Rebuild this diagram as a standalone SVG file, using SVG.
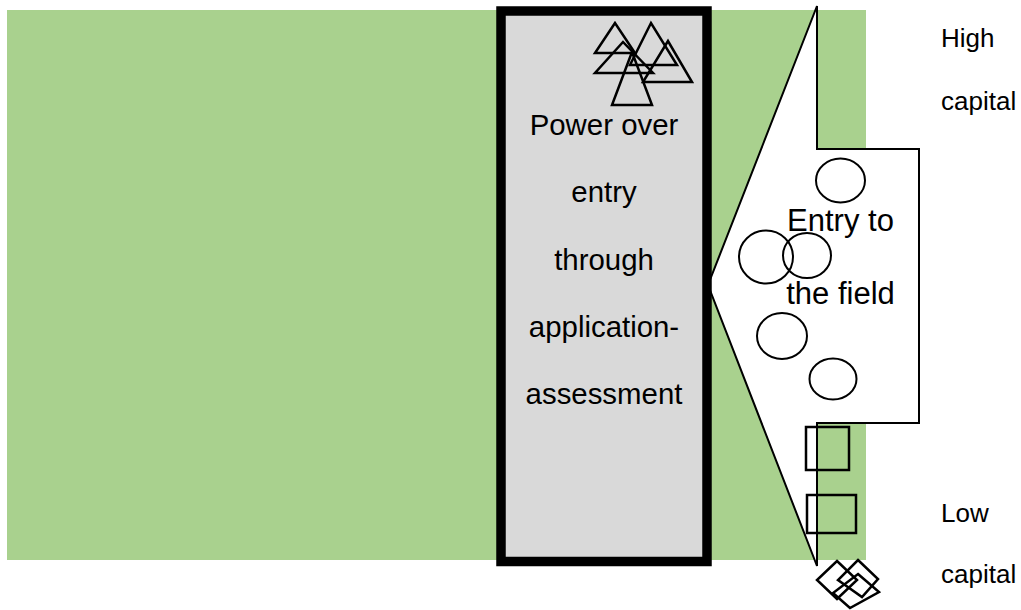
<svg xmlns="http://www.w3.org/2000/svg" width="1021" height="610" viewBox="0 0 1021 610">
<style>
.t{font-family:"Liberation Sans",Arial,sans-serif;fill:#000}
.sh{fill:none;stroke:#000;stroke-width:2.5}
.ci{fill:none;stroke:#000;stroke-width:2}
</style>
<g id="background">
<rect x="7" y="10" width="859" height="550" fill="#a9d18e"/>
</g>
<g id="field-entry">
<polygon points="817,6 817,149 919,149 919,423 817,423 817,566 708,285" fill="#fff" stroke="#000" stroke-width="2"/>
<ellipse class="ci" cx="840.5" cy="180.5" rx="24.5" ry="22"/>
<ellipse class="ci" cx="766" cy="257" rx="27" ry="26.5"/>
<ellipse class="ci" cx="807" cy="255.5" rx="24" ry="22.5"/>
<ellipse class="ci" cx="782" cy="336" rx="25" ry="23"/>
<ellipse class="ci" cx="833" cy="379" rx="23.5" ry="20.5"/>
<text class="t" x="840.5" y="231" font-size="31" text-anchor="middle">Entry to</text>
<text class="t" x="840.5" y="304" font-size="31" text-anchor="middle">the field</text>
</g>
<g id="gatekeeper">
<rect x="501" y="11" width="206" height="550.5" fill="#d9d9d9" stroke="#000" stroke-width="9.5"/>
<polygon class="sh" points="615,23 595,53 635,53"/>
<polygon class="sh" points="651,23 630,65 677,65"/>
<polygon class="sh" points="623,42 595,73 653,73"/>
<polygon class="sh" points="668,41 643,82 692,82"/>
<polygon class="sh" points="632,52 612,105 652,105"/>
<text class="t" x="604" y="135" font-size="29.4" text-anchor="middle">Power over</text>
<text class="t" x="604" y="202.4" font-size="29.4" text-anchor="middle">entry</text>
<text class="t" x="604" y="269.5" font-size="29.4" text-anchor="middle">through</text>
<text class="t" x="604" y="336.7" font-size="29.4" text-anchor="middle">application-</text>
<text class="t" x="604" y="404" font-size="29.4" text-anchor="middle">assessment</text>
</g>
<g id="low-capital-agents">
<rect class="sh" x="806" y="427" width="43" height="43"/>
<rect class="sh" x="807" y="495" width="49" height="38"/>
<polygon class="sh" points="837,561 857,580 837,599 817,580"/>
<polygon class="sh" points="858,560 878,579 862,597 838,580"/>
<polygon class="sh" points="858,574 879,592 850,608 833,593"/>
</g>
<g id="labels">
<text class="t" x="941" y="46.7" font-size="26">High</text>
<text class="t" x="941" y="110" font-size="26">capital</text>
<text class="t" x="941" y="521.7" font-size="26">Low</text>
<text class="t" x="941" y="582.7" font-size="26">capital</text>
</g>
<g id="connectors"/>
</svg>
